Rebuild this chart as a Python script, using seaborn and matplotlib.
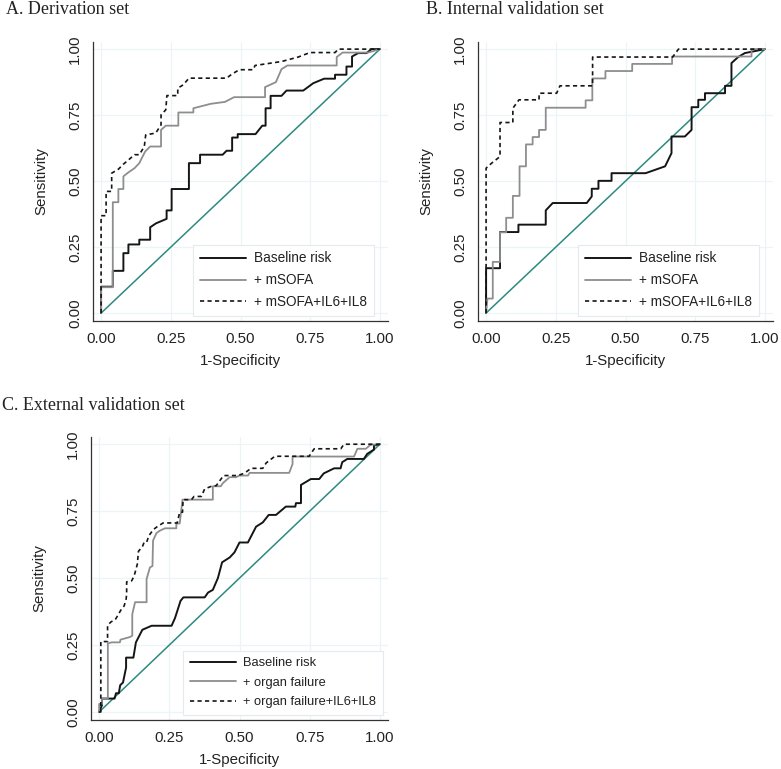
"""
ROC curves for three cohorts (derivation / internal / external validation)
"""

import matplotlib.pyplot as plt
import pandas as pd
import seaborn as sns

# ---- panel A: derivation set ----
a_base_x = [0, 0, 0.042, 0.042, 0.08, 0.08, 0.098, 0.098, 0.137, 0.137, 0.176, 0.176, 0.197, 0.235,
            0.235, 0.253, 0.253, 0.315, 0.315, 0.355, 0.355, 0.436, 0.45, 0.47, 0.47, 0.49, 0.49,
            0.554, 0.578, 0.59, 0.59, 0.608, 0.608, 0.647, 0.665, 0.725, 0.761, 0.80, 0.839, 0.839,
            0.88, 0.88, 0.90, 0.90, 0.922, 0.952, 0.97, 1]
a_base_y = [0, 0.10, 0.10, 0.16, 0.16, 0.227, 0.227, 0.26, 0.26, 0.278, 0.278, 0.325, 0.34, 0.357,
            0.389, 0.389, 0.47, 0.47, 0.568, 0.568, 0.60, 0.60, 0.615, 0.615, 0.665, 0.665, 0.678,
            0.678, 0.71, 0.71, 0.776, 0.776, 0.823, 0.823, 0.843, 0.843, 0.871, 0.888, 0.888, 0.903,
            0.903, 0.934, 0.934, 0.972, 0.985, 0.985, 1.0, 1]
a_sofa_x = [0, 0, 0.042, 0.042, 0.062, 0.062, 0.08, 0.08, 0.098, 0.12, 0.137, 0.158, 0.176, 0.215,
            0.215, 0.232, 0.277, 0.277, 0.331, 0.331, 0.394, 0.444, 0.477, 0.588, 0.588, 0.627,
            0.647, 0.668, 0.845, 0.845, 0.866, 0.958, 1]
a_sofa_y = [0, 0.098, 0.098, 0.42, 0.42, 0.47, 0.47, 0.518, 0.533, 0.549, 0.568, 0.612, 0.631, 0.631,
            0.694, 0.71, 0.71, 0.76, 0.76, 0.776, 0.793, 0.80, 0.818, 0.818, 0.856, 0.875, 0.924,
            0.938, 0.938, 0.97, 0.987, 0.987, 1]
a_full_x = [0, 0, 0.018, 0.018, 0.038, 0.038, 0.062, 0.08, 0.098, 0.12, 0.137, 0.155, 0.16, 0.196,
            0.215, 0.215, 0.232, 0.236, 0.275, 0.275, 0.295, 0.315, 0.45, 0.47, 0.496, 0.546, 0.552,
            0.647, 0.707, 0.749, 0.839, 0.851, 1]
a_full_y = [0, 0.369, 0.369, 0.461, 0.461, 0.53, 0.545, 0.564, 0.58, 0.60, 0.60, 0.631, 0.675, 0.682,
            0.713, 0.751, 0.77, 0.824, 0.824, 0.852, 0.865, 0.89, 0.89, 0.906, 0.922, 0.922, 0.938,
            0.953, 0.97, 0.987, 0.987, 1.0, 1]

# ---- panel B: internal validation set ----
b_base_x = [0, 0, 0.05, 0.05, 0.116, 0.116, 0.214, 0.214, 0.239, 0.361, 0.379, 0.379, 0.403, 0.403,
            0.45, 0.45, 0.572, 0.642, 0.665, 0.665, 0.713, 0.737, 0.737, 0.761, 0.761, 0.785, 0.785,
            0.857, 0.857, 0.88, 0.88, 0.904, 0.928, 1]
b_base_y = [0, 0.17, 0.17, 0.307, 0.307, 0.335, 0.335, 0.389, 0.417, 0.417, 0.442, 0.471, 0.471, 0.501,
            0.501, 0.53, 0.53, 0.556, 0.606, 0.669, 0.669, 0.694, 0.78, 0.78, 0.808, 0.808, 0.833,
            0.833, 0.861, 0.861, 0.947, 0.97, 0.985, 1]
b_sofa_x = [0, 0.005, 0.024, 0.024, 0.05, 0.05, 0.072, 0.072, 0.096, 0.096, 0.12, 0.12, 0.143, 0.143,
            0.167, 0.167, 0.19, 0.19, 0.214, 0.214, 0.357, 0.357, 0.381, 0.381, 0.428, 0.428, 0.524,
            0.524, 0.667, 0.667, 0.952, 0.952, 1]
b_sofa_y = [0, 0.055, 0.055, 0.194, 0.194, 0.306, 0.306, 0.361, 0.361, 0.444, 0.444, 0.556, 0.556,
            0.639, 0.639, 0.667, 0.667, 0.694, 0.694, 0.778, 0.778, 0.806, 0.806, 0.889, 0.889, 0.917,
            0.917, 0.944, 0.944, 0.972, 0.972, 1.0, 1]
b_full_x = [0, 0, 0.02, 0.05, 0.05, 0.096, 0.096, 0.118, 0.19, 0.19, 0.253, 0.265, 0.382, 0.382, 0.669,
            0.69, 1]
b_full_y = [0, 0.549, 0.568, 0.593, 0.722, 0.722, 0.776, 0.808, 0.808, 0.833, 0.833, 0.861, 0.861,
            0.97, 0.97, 1.0, 1]

# ---- panel C: external validation set ----
c_base_x = [0, 0.01, 0.01, 0.055, 0.06, 0.07, 0.075, 0.085, 0.096, 0.096, 0.122, 0.131, 0.154, 0.187,
            0.258, 0.27, 0.29, 0.3, 0.376, 0.388, 0.405, 0.423, 0.438, 0.465, 0.482, 0.5, 0.53, 0.559,
            0.583, 0.604, 0.63, 0.665, 0.699, 0.701, 0.719, 0.719, 0.754, 0.784, 0.80, 0.837, 0.86,
            0.866, 0.884, 0.943, 0.955, 0.979, 0.979, 1]
c_base_y = [0, 0.025, 0.05, 0.05, 0.07, 0.07, 0.10, 0.11, 0.166, 0.203, 0.203, 0.26, 0.307, 0.322,
            0.322, 0.35, 0.415, 0.428, 0.428, 0.446, 0.456, 0.50, 0.559, 0.577, 0.596, 0.633, 0.633,
            0.692, 0.708, 0.736, 0.736, 0.767, 0.767, 0.78, 0.78, 0.848, 0.87, 0.87, 0.891, 0.91, 0.91,
            0.933, 0.945, 0.945, 0.964, 0.98, 0.995, 1]
c_org_x = [0, 0, 0.01, 0.01, 0.031, 0.031, 0.045, 0.074, 0.076, 0.11, 0.118, 0.118, 0.128, 0.169,
           0.169, 0.181, 0.19, 0.192, 0.204, 0.216, 0.234, 0.275, 0.275, 0.287, 0.297, 0.405, 0.405,
           0.433, 0.441, 0.465, 0.488, 0.5, 0.53, 0.536, 0.677, 0.689, 0.689, 0.908, 0.92, 0.95,
           0.967, 1]
c_org_y = [0, 0.03, 0.03, 0.05, 0.05, 0.256, 0.26, 0.26, 0.27, 0.28, 0.285, 0.365, 0.41, 0.41, 0.496,
           0.54, 0.545, 0.64, 0.668, 0.677, 0.686, 0.686, 0.704, 0.704, 0.793, 0.793, 0.843, 0.843,
           0.855, 0.877, 0.877, 0.883, 0.883, 0.893, 0.893, 0.926, 0.954, 0.954, 0.983, 0.983, 0.998, 1]
c_full_x = [0, 0.006, 0.006, 0.03, 0.03, 0.043, 0.057, 0.069, 0.077, 0.089, 0.096, 0.098, 0.098, 0.116,
            0.125, 0.136, 0.14, 0.154, 0.16, 0.169, 0.177, 0.193, 0.204, 0.228, 0.278, 0.287, 0.297,
            0.299, 0.329, 0.338, 0.364, 0.376, 0.405, 0.417, 0.443, 0.494, 0.518, 0.541, 0.583, 0.595,
            0.626, 0.748, 0.766, 0.861, 0.872, 1]
c_full_y = [0, 0, 0.263, 0.263, 0.324, 0.337, 0.344, 0.365, 0.38, 0.396, 0.421, 0.44, 0.486, 0.49,
            0.509, 0.552, 0.60, 0.617, 0.633, 0.633, 0.658, 0.681, 0.69, 0.706, 0.706, 0.746, 0.746,
            0.793, 0.793, 0.805, 0.805, 0.833, 0.845, 0.845, 0.883, 0.883, 0.892, 0.91, 0.91, 0.93,
            0.955, 0.955, 0.983, 0.983, 1.0, 1]

ticks = [0, 0.25, 0.5, 0.75, 1.0]
tick_labels = ["0.00", "0.25", "0.50", "0.75", "1.00"]

BLACK = "#151515"
GRAY = "#8e8e8e"
TEAL = "#2c8a80"
GRID = "#edf4f7"


def roc_panel(ax, curves, labels, title, title_xy, fig, leg_anchor, leg_size):
    # reference line
    sns.lineplot(x=[0, 1], y=[0, 1], ax=ax, color=TEAL, lw=1.1, zorder=2)
    styles = [
        dict(color=BLACK, lw=1.4, ls="-"),
        dict(color=GRAY, lw=1.3, ls="-"),
        dict(color=BLACK, lw=1.2, ls=(0, (2.5, 2.0))),
    ]
    for (xs, ys), lab, st in zip(curves, labels, styles):
        df = pd.DataFrame({"x": xs, "y": ys})
        sns.lineplot(data=df, x="x", y="y", ax=ax, sort=False, estimator=None,
                     label=lab, color=st["color"], lw=st["lw"], linestyle=st["ls"], zorder=3)

    ax.set_xlim(-0.029, 1.029)
    ax.set_ylim(-0.03, 1.027)
    ax.set_xticks(ticks)
    ax.set_xticklabels(tick_labels)
    ax.set_yticks(ticks)
    ax.set_yticklabels(tick_labels, rotation=90, va="center")
    ax.grid(True, color=GRID, lw=0.9)
    ax.set_axisbelow(True)
    for s in ["top", "right"]:
        ax.spines[s].set_visible(False)
    for s in ["left", "bottom"]:
        ax.spines[s].set_color("#333333")
        ax.spines[s].set_linewidth(0.9)
    ax.tick_params(axis="both", direction="out", length=5, width=0.9, color="#333333",
                   labelsize=10.8, labelcolor="#222222", pad=3)
    ax.set_xlabel("1-Specificity", fontsize=10.8, color="#222222", labelpad=6)
    ax.set_ylabel("Sensitivity", fontsize=10.8, color="#222222", labelpad=14)

    hl = 46 / (leg_size * 100 / 72)  # handle ~46 px long
    leg = ax.legend(loc="lower right", bbox_to_anchor=leg_anchor, borderaxespad=0,
                    fontsize=leg_size, handlelength=hl, handletextpad=0.6, labelspacing=0.58,
                    borderpad=0.5, frameon=True, fancybox=False, framealpha=1)
    leg.get_frame().set_edgecolor("#e4ebee")
    leg.get_frame().set_linewidth(0.8)
    for t in leg.get_texts():
        t.set_color("#222222")

    fig.text(title_xy[0], title_xy[1], title, fontsize=13, family="Liberation Serif",
             color="#222222", ha="left", va="center")


def main():
    sns.set_theme(style="white")
    plt.rcParams["font.family"] = ["Liberation Sans", "DejaVu Sans"]

    W, H = 781, 769
    fig = plt.figure(figsize=(W / 100, H / 100), dpi=100)

    def px_axes(left, top, right, bottom):
        return fig.add_axes([left / W, 1 - bottom / H, (right - left) / W, (bottom - top) / H])

    ax_a = px_axes(93, 42, 388, 321)
    ax_b = px_axes(478, 42, 773, 321)
    ax_c = px_axes(91, 437, 388, 720)

    roc_panel(ax_a, [(a_base_x, a_base_y), (a_sofa_x, a_sofa_y), (a_full_x, a_full_y)],
              ["Baseline risk", "+ mSOFA", "+ mSOFA+IL6+IL8"],
              "A. Derivation set", (6 / W, 1 - 10 / H), fig, (0.953, 0.018), 9.8)
    roc_panel(ax_b, [(b_base_x, b_base_y), (b_sofa_x, b_sofa_y), (b_full_x, b_full_y)],
              ["Baseline risk", "+ mSOFA", "+ mSOFA+IL6+IL8"],
              "B. Internal validation set", (426 / W, 1 - 9 / H), fig, (0.953, 0.018), 9.8)
    roc_panel(ax_c, [(c_base_x, c_base_y), (c_org_x, c_org_y), (c_full_x, c_full_y)],
              ["Baseline risk", "+ organ failure", "+ organ failure+IL6+IL8"],
              "C. External validation set", (2 / W, 1 - 405 / H), fig, (0.983, 0.018), 9.3)

    fig.savefig("out.png", dpi=100)


if __name__ == "__main__":
    main()
